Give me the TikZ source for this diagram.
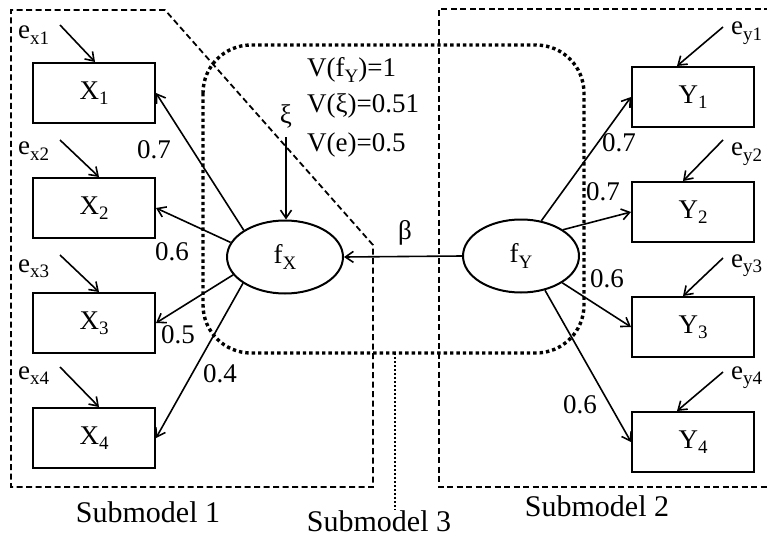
\documentclass[tikz,border=0pt]{standalone}
\usepackage{fontspec}
\setmainfont{Liberation Serif}
\usetikzlibrary{arrows.meta,shapes.geometric,calc}
% lowered, smaller index text
\newcommand\lsub[1]{\raisebox{-0.2em}{\fontsize{19}{19}\selectfont #1}}
\begin{document}
\begin{tikzpicture}[x=1pt,y=-1pt,
  font=\fontsize{27}{32}\selectfont,
  obs/.style={draw,line width=2pt,minimum width=122pt,minimum height=60pt,inner sep=0pt},
  lat/.style={draw,ellipse,line width=2pt,minimum width=116pt,minimum height=73pt,inner sep=0pt},
  link/.style={line width=1.6pt,-{Straight Barb[length=8pt,width=11pt]}},
  txt/.style={inner sep=0pt,anchor=base},
  errlbl/.style={inner sep=0pt,anchor=base west},
  part/.style={line width=1.8pt,dash pattern=on 6pt off 3.5pt},
  core/.style={line width=3.4pt,dash pattern=on 3.4pt off 3pt,rounded corners=48pt},
  tie/.style={line width=1.8pt,dash pattern=on 2pt off 2pt},
  sublbl/.style={inner sep=0pt,anchor=base,font=\fontsize{30}{34}\selectfont}]
\useasboundingbox (0,0) rectangle (767,540);

% submodel frames
\draw[part] (165,10) -- (11,10) -- (11,487) -- (373,487) -- (373,245) -- cycle;
\draw[part] (770,9) -- (439,9) -- (439,487) -- (770,487);
\draw[core] (203,45) rectangle (584,353);
\coordinate (s3top) at (395,353);
\coordinate (s3bot) at (395,510);
\draw[tie] (s3top) -- (s3bot);

% observed indicators
\node[obs] (X1) at (94,93)  {X\lsub{1}};
\node[obs] (X2) at (94,208) {X\lsub{2}};
\node[obs] (X3) at (94,323) {X\lsub{3}};
\node[obs] (X4) at (94,438) {X\lsub{4}};
\node[obs] (Y1) at (693,97)  {Y\lsub{1}};
\node[obs] (Y2) at (693,212) {Y\lsub{2}};
\node[obs] (Y3) at (693,327) {Y\lsub{3}};
\node[obs] (Y4) at (693,442) {Y\lsub{4}};

% latent factors
\node[lat] (fX) at (285,257) {f\lsub{X}};
\node[lat] (fY) at (521,256) {f\lsub{Y}};

% error terms
\node[errlbl] (ex1) at (18,39)  {e\lsub{x1}};
\node[errlbl] (ex2) at (18,155) {e\lsub{x2}};
\node[errlbl] (ex3) at (18,272) {e\lsub{x3}};
\node[errlbl] (ex4) at (18,379) {e\lsub{x4}};
\node[errlbl] (ey1) at (731,35)  {e\lsub{y1}};
\node[errlbl] (ey2) at (731,156) {e\lsub{y2}};
\node[errlbl] (ey3) at (731,267) {e\lsub{y3}};
\node[errlbl] (ey4) at (731,379) {e\lsub{y4}};

\coordinate (ax1) at (60,25);
\coordinate (ax2) at (60,140);
\coordinate (ax3) at (60,255);
\coordinate (ax4) at (60,367);
\coordinate (ay1) at (723,27);
\coordinate (ay2) at (723,140);
\coordinate (ay3) at (723,258);
\coordinate (ay4) at (723,372);
\draw[link] (ax1) -- ($(X1.north)+(1,0)$);
\draw[link] (ax2) -- ($(X2.north)+(5,0)$);
\draw[link] (ax3) -- ($(X3.north)+(5,0)$);
\draw[link] (ax4) -- ($(X4.north)+(5,0)$);
\draw[link] (ay1) -- ($(Y1.north)+(-16,0)$);
\draw[link] (ay2) -- ($(Y2.north)+(-10,0)$);
\draw[link] (ay3) -- ($(Y3.north)+(-10,0)$);
\draw[link] (ay4) -- ($(Y4.north)+(-16,0)$);

% loadings
\draw[link] (fX.147) -- (X1.east);
\draw[link] (fX.165) -- (X2.east);
\draw[link] (fX.199) -- (X3.east);
\draw[link] (fX.212) -- (X4.east);
\draw[link] (fY.60)  -- (Y1.west);
\draw[link] (fY.32)  -- (Y2.west);
\draw[link] (fY.327) -- (Y3.west);
\draw[link] (fY.305) -- (Y4.west);

\node[txt] at (154,158) {0.7};
\node[txt] at (172,260) {0.6};
\node[txt] at (178,343) {0.5};
\node[txt] at (220,382) {0.4};
\node[txt] at (619,152) {0.7};
\node[txt] at (603,200) {0.7};
\node[txt] at (607,287) {0.6};
\node[txt] at (580,413) {0.6};

% structural path and disturbance
\draw[link] (fY.west) -- (fX.east);
\node[inner sep=0pt] (beta) at (405,233) {β};
\node[inner sep=0pt] (xi) at (286,116) {ξ};
\draw[link,shorten <=9pt] (xi.south) -- (xi.south |- fX.north);

% variances
\node[errlbl] at (307,77)  {V(f\lsub{Y})=1};
\node[errlbl] at (307,113) {V(ξ)=0.51};
\node[errlbl] at (307,152) {V(e)=0.5};

% submodel captions
\node[sublbl] at (148,522) {Submodel 1};
\node[sublbl] at (597,516) {Submodel 2};
\node[sublbl] at (379,531) {Submodel 3};
\end{tikzpicture}
\end{document}
